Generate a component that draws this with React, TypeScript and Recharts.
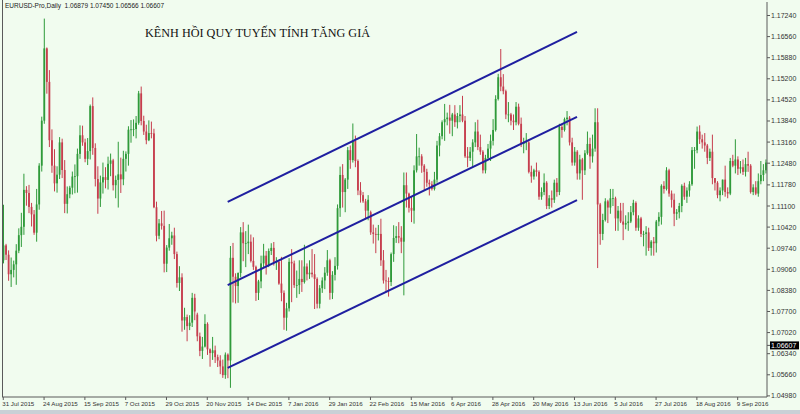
import React from "react";
import { ComposedChart, Bar, XAxis, YAxis, ReferenceLine } from "recharts";

// EURUSD daily, 31 Jul 2015 .. 26 Sep 2016 (one row per trading day)
const opens = [
  1.0935,
  1.0983, 1.0953, 1.0890, 1.0904, 1.0922,
  1.0966, 1.1016, 1.1043, 1.1162, 1.1152,
  1.1107, 1.1083, 1.1024, 1.1115, 1.1240,
  1.1385, 1.1618, 1.1510, 1.1322, 1.1240,
  1.1183, 1.1211, 1.1315, 1.1226, 1.1117,
  1.1148, 1.1169, 1.1205, 1.1206, 1.1278,
  1.1338, 1.1315, 1.1262, 1.1287, 1.1432,
  1.1297, 1.1197, 1.1134, 1.1186, 1.1203,
  1.1194, 1.1246, 1.1257, 1.1177, 1.1194,
  1.1212, 1.1196, 1.1262, 1.1278, 1.1356,
  1.1357, 1.1358, 1.1378, 1.1473, 1.1384,
  1.1350, 1.1322, 1.1345, 1.1344, 1.1106,
  1.1014, 1.1054, 1.1046, 1.0924, 1.0976,
  1.1006, 1.1015, 1.0955, 1.0862, 1.0880,
  1.0741, 1.0752, 1.0723, 1.0734, 1.0814,
  1.0760, 1.0690, 1.0643, 1.0657, 1.0730,
  1.0648, 1.0636, 1.0645, 1.0623, 1.0612,
  1.0593, 1.0565, 1.0631, 1.0612, 1.0943,
  1.0882, 1.0852, 1.0894, 1.1025, 1.0990,
  1.0990, 1.0995, 1.0933, 1.0914, 1.0830,
  1.0867, 1.0925, 1.0950, 1.0918,
  1.0965, 1.0975, 1.0930, 1.0930,
  1.0860, 1.0830, 1.0750, 1.0780, 1.0930,
  1.0925, 1.0855, 1.0855, 1.0875, 1.0865,
  1.0915, 1.0890, 1.0895, 1.0890, 1.0875,
  1.0795, 1.0845, 1.0870, 1.0895, 1.0935,
  1.0830, 1.0888, 1.0917, 1.1103, 1.1210,
  1.1155, 1.1195, 1.1290, 1.1258, 1.1320,
  1.1255, 1.1160, 1.1145, 1.1125, 1.1095,
  1.1090, 1.1025, 1.1020, 1.1017, 1.1020,
  1.0935, 1.0870, 1.0868, 1.0865, 1.0955,
  1.1007, 1.1013, 1.1008, 1.0995, 1.1177,
  1.1150, 1.1104, 1.1095, 1.1225, 1.1270,
  1.1270, 1.1240, 1.1220, 1.1185, 1.1180,
  1.1165, 1.1195, 1.1305, 1.1335, 1.1380,
  1.1390, 1.1395, 1.1385, 1.1405, 1.1380,
  1.1400, 1.1405, 1.1385, 1.1270, 1.1265,
  1.1285, 1.1315, 1.1350, 1.1300, 1.1285,
  1.1225, 1.1265, 1.1295, 1.1320, 1.1355,
  1.1455, 1.1525, 1.1495, 1.1480, 1.1405,
  1.1405, 1.1385, 1.1380, 1.1430, 1.1375,
  1.1310, 1.1315, 1.1315, 1.1220, 1.1205,
  1.1225, 1.1220, 1.1140, 1.1155, 1.1185,
  1.1110, 1.1135, 1.1130, 1.1185, 1.1155,
  1.1365, 1.1355, 1.1390, 1.1395, 1.1315,
  1.1250, 1.1285, 1.1215, 1.1260, 1.1225,
  1.1280, 1.1310, 1.1270, 1.1295, 1.1380,
  1.1115, 1.1020, 1.1065, 1.1125, 1.1105,
  1.1135, 1.1135, 1.1070, 1.1095, 1.1060,
  1.1050, 1.1055, 1.1060, 1.1090, 1.1120,
  1.1040, 1.1070, 1.1020, 1.1020, 1.1025,
  1.0975, 1.0995, 1.0990, 1.1060, 1.1075,
  1.1175, 1.1165, 1.1225, 1.1150, 1.1130,
  1.1085, 1.1090, 1.1110, 1.1175, 1.1140,
  1.1160, 1.1180, 1.1290, 1.1290, 1.1350,
  1.1325, 1.1315, 1.1305, 1.1265, 1.1285,
  1.1200, 1.1185, 1.1145, 1.1160, 1.1195,
  1.1155, 1.1150, 1.1255, 1.1240, 1.1260,
  1.1230, 1.1235, 1.1220, 1.1245, 1.1240,
  1.1155, 1.1170, 1.1150, 1.1190, 1.1210,
  1.1225,
];

const highs = [
  1.1114,
  1.0988, 1.0967, 1.0944, 1.0934, 1.0987,
  1.1038, 1.1088, 1.1214, 1.1174, 1.1178,
  1.1120, 1.1097, 1.1165, 1.1248, 1.1398,
  1.1714, 1.1621, 1.1548, 1.1357, 1.1293,
  1.1238, 1.1332, 1.1327, 1.1258, 1.1173,
  1.1175, 1.1221, 1.1244, 1.1295, 1.1370,
  1.1369, 1.1327, 1.1329, 1.1437, 1.1460,
  1.1312, 1.1238, 1.1208, 1.1250, 1.1235,
  1.1269, 1.1279, 1.1262, 1.1208, 1.1317,
  1.1266, 1.1288, 1.1286, 1.1367, 1.1387,
  1.1389, 1.1400, 1.1481, 1.1495, 1.1401,
  1.1372, 1.1386, 1.1382, 1.1359, 1.1124,
  1.1068, 1.1094, 1.1095, 1.0984, 1.1052,
  1.1027, 1.1040, 1.0963, 1.0916, 1.0893,
  1.0782, 1.0760, 1.0758, 1.0830, 1.0827,
  1.0766, 1.0702, 1.0688, 1.0761, 1.0735,
  1.0651, 1.0688, 1.0660, 1.0631, 1.0629,
  1.0615, 1.0638, 1.0635, 1.0981, 1.0991,
  1.0893, 1.0896, 1.1042, 1.1058, 1.1029,
  1.1050, 1.1018, 1.1009, 1.0918, 1.0872,
  1.0950, 1.0988, 1.0965, 1.0973,
  1.0990, 1.0994, 1.0945, 1.0933,
  1.0946, 1.0838, 1.0798, 1.0942, 1.0971,
  1.0934, 1.0902, 1.0935, 1.0935, 1.0985,
  1.0925, 1.0935, 1.0971, 1.0955, 1.0880,
  1.0855, 1.0880, 1.0913, 1.0968, 1.0940,
  1.0900, 1.0945, 1.1115, 1.1237, 1.1245,
  1.1200, 1.1300, 1.1305, 1.1376, 1.1337,
  1.1260, 1.1187, 1.1155, 1.1133, 1.1145,
  1.1095, 1.1050, 1.1040, 1.1049, 1.1069,
  1.0968, 1.0904, 1.0880, 1.0960, 1.1048,
  1.1045, 1.1058, 1.1045, 1.1218, 1.1218,
  1.1153, 1.1140, 1.1241, 1.1342, 1.1298,
  1.1277, 1.1245, 1.1230, 1.1195, 1.1190,
  1.1220, 1.1320, 1.1345, 1.1386, 1.1439,
  1.1411, 1.1436, 1.1410, 1.1435, 1.1410,
  1.1435, 1.1465, 1.1400, 1.1300, 1.1300,
  1.1325, 1.1380, 1.1388, 1.1340, 1.1290,
  1.1275, 1.1310, 1.1340, 1.1390, 1.1467,
  1.1536, 1.1616, 1.1535, 1.1485, 1.1445,
  1.1410, 1.1405, 1.1445, 1.1440, 1.1395,
  1.1330, 1.1345, 1.1325, 1.1240, 1.1230,
  1.1250, 1.1225, 1.1170, 1.1215, 1.1190,
  1.1145, 1.1160, 1.1195, 1.1200, 1.1375,
  1.1375, 1.1395, 1.1416, 1.1400, 1.1330,
  1.1300, 1.1290, 1.1275, 1.1265, 1.1290,
  1.1350, 1.1330, 1.1340, 1.1425, 1.1425,
  1.1120, 1.1085, 1.1135, 1.1130, 1.1165,
  1.1165, 1.1140, 1.1110, 1.1120, 1.1120,
  1.1080, 1.1090, 1.1110, 1.1130, 1.1125,
  1.1080, 1.1075, 1.1030, 1.1045, 1.1040,
  1.1000, 1.1010, 1.1065, 1.1090, 1.1180,
  1.1190, 1.1235, 1.1230, 1.1160, 1.1150,
  1.1100, 1.1120, 1.1180, 1.1185, 1.1170,
  1.1190, 1.1300, 1.1300, 1.1366, 1.1370,
  1.1340, 1.1345, 1.1310, 1.1295, 1.1340,
  1.1200, 1.1190, 1.1170, 1.1195, 1.1240,
  1.1170, 1.1265, 1.1275, 1.1325, 1.1270,
  1.1255, 1.1260, 1.1265, 1.1285, 1.1245,
  1.1180, 1.1190, 1.1215, 1.1255, 1.1245,
  1.1260,
];

const lows = [
  1.0925,
  1.0936, 1.0869, 1.0849, 1.0880, 1.0856,
  1.0958, 1.0978, 1.1017, 1.1111, 1.1087,
  1.1044, 1.1017, 1.0995, 1.1098, 1.1221,
  1.1375, 1.1472, 1.1300, 1.1217, 1.1157,
  1.1153, 1.1197, 1.1200, 1.1087, 1.1086,
  1.1135, 1.1147, 1.1151, 1.1153, 1.1262,
  1.1304, 1.1251, 1.1242, 1.1260, 1.1275,
  1.1173, 1.1085, 1.1107, 1.1150, 1.1167,
  1.1163, 1.1206, 1.1160, 1.1135, 1.1105,
  1.1152, 1.1177, 1.1221, 1.1240, 1.1314,
  1.1335, 1.1328, 1.1372, 1.1370, 1.1339,
  1.1309, 1.1319, 1.1328, 1.1103, 1.0996,
  1.1003, 1.1034, 1.0896, 1.0897, 1.0966,
  1.0985, 1.0939, 1.0847, 1.0836, 1.0705,
  1.0711, 1.0674, 1.0710, 1.0720, 1.0742,
  1.0674, 1.0626, 1.0617, 1.0654, 1.0630,
  1.0592, 1.0614, 1.0604, 1.0591, 1.0568,
  1.0556, 1.0553, 1.0555, 1.0524, 1.0799,
  1.0796, 1.0798, 1.0880, 1.0932, 1.0913,
  1.0955, 1.0928, 1.0904, 1.0804, 1.0807,
  1.0845, 1.0912, 1.0889, 1.0913,
  1.0952, 1.0918, 1.0904, 1.0856,
  1.0803, 1.0711, 1.0708, 1.0770, 1.0800,
  1.0846, 1.0814, 1.0826, 1.0833, 1.0860,
  1.0870, 1.0875, 1.0880, 1.0778, 1.0780,
  1.0780, 1.0830, 1.0842, 1.0885, 1.0808,
  1.0810, 1.0870, 1.0905, 1.1075, 1.1105,
  1.1090, 1.1165, 1.1230, 1.1250, 1.1235,
  1.1145, 1.1121, 1.1120, 1.1067, 1.1064,
  1.1017, 1.0989, 1.0958, 1.0999, 1.0917,
  1.0860, 1.0832, 1.0818, 1.0852, 1.0930,
  1.0991, 1.0990, 1.0958, 1.0822, 1.1105,
  1.1089, 1.1058, 1.1053, 1.1218, 1.1240,
  1.1217, 1.1160, 1.1172, 1.1144, 1.1160,
  1.1160, 1.1185, 1.1270, 1.1325, 1.1320,
  1.1370, 1.1343, 1.1335, 1.1365, 1.1360,
  1.1380, 1.1380, 1.1265, 1.1235, 1.1255,
  1.1235, 1.1300, 1.1290, 1.1275, 1.1215,
  1.1215, 1.1260, 1.1255, 1.1305, 1.1350,
  1.1450, 1.1480, 1.1470, 1.1390, 1.1380,
  1.1370, 1.1355, 1.1370, 1.1370, 1.1300,
  1.1280, 1.1290, 1.1215, 1.1185, 1.1195,
  1.1205, 1.1130, 1.1130, 1.1145, 1.1100,
  1.1100, 1.1105, 1.1120, 1.1140, 1.1145,
  1.1330, 1.1350, 1.1370, 1.1305, 1.1240,
  1.1240, 1.1195, 1.1195, 1.1130, 1.1210,
  1.1275, 1.1230, 1.1250, 1.1285, 1.0910,
  1.0985, 1.1000, 1.1060, 1.1055, 1.1085,
  1.1110, 1.1030, 1.1030, 1.1055, 1.1000,
  1.1035, 1.1030, 1.1055, 1.1080, 1.1030,
  1.1030, 1.1010, 1.0980, 1.0950, 1.0965,
  1.0950, 1.0950, 1.0960, 1.1045, 1.1050,
  1.1150, 1.1160, 1.1140, 1.1105, 1.1045,
  1.1065, 1.1070, 1.1090, 1.1130, 1.1120,
  1.1140, 1.1175, 1.1230, 1.1280, 1.1310,
  1.1295, 1.1285, 1.1245, 1.1255, 1.1180,
  1.1160, 1.1135, 1.1125, 1.1145, 1.1140,
  1.1135, 1.1145, 1.1235, 1.1215, 1.1210,
  1.1215, 1.1210, 1.1205, 1.1220, 1.1150,
  1.1145, 1.1145, 1.1140, 1.1180, 1.1190,
  1.1215,
];

const closes = [
  1.0983,
  1.0953, 1.0890, 1.0904, 1.0922, 1.0966,
  1.1016, 1.1043, 1.1162, 1.1152, 1.1107,
  1.1083, 1.1024, 1.1115, 1.1240, 1.1385,
  1.1618, 1.1510, 1.1322, 1.1240, 1.1183,
  1.1211, 1.1315, 1.1226, 1.1117, 1.1148,
  1.1169, 1.1205, 1.1206, 1.1278, 1.1338,
  1.1315, 1.1262, 1.1287, 1.1432, 1.1297,
  1.1197, 1.1134, 1.1186, 1.1203, 1.1194,
  1.1246, 1.1257, 1.1177, 1.1194, 1.1212,
  1.1196, 1.1262, 1.1278, 1.1356, 1.1357,
  1.1358, 1.1378, 1.1473, 1.1384, 1.1350,
  1.1322, 1.1345, 1.1344, 1.1106, 1.1014,
  1.1054, 1.1046, 1.0924, 1.0976, 1.1006,
  1.1015, 1.0955, 1.0862, 1.0880, 1.0741,
  1.0752, 1.0723, 1.0734, 1.0814, 1.0770,
  1.0690, 1.0643, 1.0657, 1.0730, 1.0648,
  1.0636, 1.0645, 1.0623, 1.0612, 1.0593,
  1.0565, 1.0631, 1.0612, 1.0943, 1.0882,
  1.0852, 1.0894, 1.1025, 1.0990, 1.0990,
  1.0995, 1.0933, 1.0914, 1.0830, 1.0867,
  1.0925, 1.0950, 1.0918, 1.0965,
  1.0975, 1.0930, 1.0930, 1.0860,
  1.0830, 1.0750, 1.0780, 1.0930, 1.0925,
  1.0855, 1.0855, 1.0875, 1.0865, 1.0915,
  1.0890, 1.0895, 1.0890, 1.0875, 1.0795,
  1.0845, 1.0870, 1.0895, 1.0935, 1.0830,
  1.0888, 1.0917, 1.1103, 1.1210, 1.1155,
  1.1195, 1.1290, 1.1258, 1.1320, 1.1255,
  1.1160, 1.1145, 1.1125, 1.1095, 1.1130,
  1.1025, 1.1020, 1.1017, 1.1020, 1.0935,
  1.0870, 1.0868, 1.0865, 1.0955, 1.1007,
  1.1013, 1.1008, 1.0995, 1.1177, 1.1150,
  1.1104, 1.1095, 1.1225, 1.1270, 1.1270,
  1.1240, 1.1220, 1.1185, 1.1180, 1.1165,
  1.1195, 1.1305, 1.1335, 1.1380, 1.1390,
  1.1395, 1.1385, 1.1405, 1.1380, 1.1400,
  1.1405, 1.1385, 1.1270, 1.1265, 1.1285,
  1.1315, 1.1350, 1.1300, 1.1285, 1.1225,
  1.1265, 1.1295, 1.1320, 1.1355, 1.1455,
  1.1525, 1.1495, 1.1480, 1.1405, 1.1405,
  1.1385, 1.1380, 1.1430, 1.1375, 1.1310,
  1.1315, 1.1315, 1.1220, 1.1205, 1.1225,
  1.1220, 1.1140, 1.1155, 1.1185, 1.1110,
  1.1135, 1.1130, 1.1185, 1.1155, 1.1365,
  1.1355, 1.1390, 1.1395, 1.1315, 1.1250,
  1.1285, 1.1215, 1.1260, 1.1225, 1.1280,
  1.1310, 1.1270, 1.1295, 1.1380, 1.1115,
  1.1020, 1.1065, 1.1125, 1.1105, 1.1135,
  1.1135, 1.1070, 1.1095, 1.1060, 1.1050,
  1.1055, 1.1060, 1.1090, 1.1120, 1.1040,
  1.1070, 1.1020, 1.1020, 1.1025, 1.0975,
  1.0995, 1.0990, 1.1060, 1.1075, 1.1175,
  1.1165, 1.1225, 1.1150, 1.1130, 1.1085,
  1.1090, 1.1110, 1.1175, 1.1140, 1.1160,
  1.1180, 1.1290, 1.1290, 1.1350, 1.1325,
  1.1315, 1.1305, 1.1265, 1.1285, 1.1200,
  1.1185, 1.1145, 1.1160, 1.1195, 1.1155,
  1.1150, 1.1255, 1.1240, 1.1260, 1.1230,
  1.1235, 1.1220, 1.1245, 1.1240, 1.1155,
  1.1170, 1.1150, 1.1190, 1.1210, 1.1225,
  1.1250,
];

// one label every 16 bars
const dateLabels = [
  "31 Jul 2015", "24 Aug 2015", "15 Sep 2015", "7 Oct 2015", "29 Oct 2015",
  "20 Nov 2015", "14 Dec 2015", "7 Jan 2016", "29 Jan 2016", "22 Feb 2016",
  "15 Mar 2016", "6 Apr 2016", "28 Apr 2016", "20 May 2016", "13 Jun 2016",
  "5 Jul 2016", "27 Jul 2016", "18 Aug 2016", "9 Sep 2016",
];

const priceTicks = [
  1.1724, 1.1656, 1.1588, 1.152, 1.1452, 1.1384, 1.1316, 1.1248, 1.1178, 1.111,
  1.1042, 1.0974, 1.0906, 1.0838, 1.077, 1.0702, 1.0634, 1.0566, 1.0498,
];
const lastPrice = 1.06607;

// regression channel (bar index -> price)
const channelBars = [88, 225];
const upperLine = [1.1123, 1.1671];
const middleLine = [1.0855, 1.1397];
const lowerLine = [1.0588, 1.1129];

const BG = "#f1fcef";
const BULL = "#2f9a3a";
const BEAR = "#c63e4e";
const CHANNEL = "#1f1fa0";
const AXIS = "#5a5a5a";
const FONT = "'Liberation Sans', Arial, sans-serif";

const data = closes.map((c, i) => ({
  i,
  o: opens[i],
  h: highs[i],
  l: lows[i],
  c,
  range: [lows[i], highs[i]],
}));

const Candle = (props: any) => {
  const { x, y, width, height, payload } = props;
  if (!payload) return null;
  const { o, h, l, c } = payload;
  const color = c >= o ? BULL : BEAR;
  const top0 = Math.min(y, y + height);
  const span = Math.abs(height);
  const cx = x + width / 2;
  const py = (p: number) => top0 + ((h - p) / (h - l || 1)) * span;
  const bTop = py(Math.max(o, c));
  const bBot = py(Math.min(o, c));
  return (
    <g>
      <line x1={cx} x2={cx} y1={top0} y2={top0 + span} stroke={color} strokeWidth={1} />
      <rect x={cx - 0.9} y={bTop} width={1.8} height={Math.max(bBot - bTop, 0.8)} fill={color} />
    </g>
  );
};

const DateTick = (props: any) => {
  const { x, y, payload } = props;
  return (
    <text x={x - 1} y={y + 5} fontSize={6.2} fill="#333" fontFamily={FONT} textAnchor="start">
      {dateLabels[Math.round(payload.value / 16)]}
    </text>
  );
};

const PriceTick = (props: any) => {
  const { x, y, payload } = props;
  if (payload.value === lastPrice) {
    return (
      <g>
        <rect x={x - 1} y={y - 4} width={29} height={8} fill="#000" />
        <text x={x} y={y + 2.5} fontSize={7} fill="#fff" fontFamily={FONT}>
          {payload.value.toFixed(5)}
        </text>
      </g>
    );
  }
  return (
    <text x={x} y={y + 2.5} fontSize={7} fill="#333" fontFamily={FONT}>
      {payload.value.toFixed(5)}
    </text>
  );
};

export default function App() {
  const seg = (vals: number[]) => [
    { x: channelBars[0], y: vals[0] },
    { x: channelBars[1], y: vals[1] },
  ];
  return (
    <div style={{ position: "fixed", left: 0, top: 0, width: 800, height: 414, background: BG, overflow: "hidden" }}>
      <ComposedChart
        width={800}
        height={414}
        data={data}
        margin={{ top: 2, right: 0, bottom: 0, left: 2 }}
        barCategoryGap={0}
        barGap={0}
      >
        <XAxis
          dataKey="i"
          interval={15}
          height={17}
          tickSize={3}
          tickMargin={1}
          axisLine={{ stroke: AXIS }}
          tickLine={{ stroke: AXIS }}
          tick={<DateTick />}
        />
        <YAxis
          orientation="right"
          type="number"
          domain={[1.04944, 1.17675]}
          allowDataOverflow
          ticks={[...priceTicks, lastPrice]}
          interval={0}
          width={33}
          tickSize={3}
          tickMargin={1}
          axisLine={{ stroke: AXIS }}
          tickLine={{ stroke: AXIS }}
          tick={<PriceTick />}
        />
        <Bar dataKey="range" shape={<Candle />} isAnimationActive={false} />
        <ReferenceLine segment={seg(upperLine)} stroke={CHANNEL} strokeWidth={2} ifOverflow="visible" />
        <ReferenceLine segment={seg(middleLine)} stroke={CHANNEL} strokeWidth={2} ifOverflow="visible" />
        <ReferenceLine segment={seg(lowerLine)} stroke={CHANNEL} strokeWidth={2} ifOverflow="visible" />
      </ComposedChart>
      <div style={{ position: "absolute", left: 2, top: 0, width: 1, height: 397, background: AXIS }} />
      <div style={{ position: "absolute", left: 0, top: 410, width: 800, height: 4, background: "#c9d0d6" }} />
      <div style={{ position: "absolute", left: 5, top: 2, fontFamily: FONT, fontSize: 6.5, color: "#222", whiteSpace: "nowrap" }}>
        EURUSD-Pro,Daily&nbsp;&nbsp;1.06879 1.07450 1.06566 1.06607
      </div>
      <div
        style={{
          position: "absolute",
          left: 145,
          top: 26,
          fontFamily: "'Liberation Serif', 'Times New Roman', serif",
          fontSize: 12.2,
          color: "#111",
          whiteSpace: "nowrap",
        }}
      >
        KÊNH HỒI QUY TUYẾN TÍNH TĂNG GIÁ
      </div>
    </div>
  );
}
